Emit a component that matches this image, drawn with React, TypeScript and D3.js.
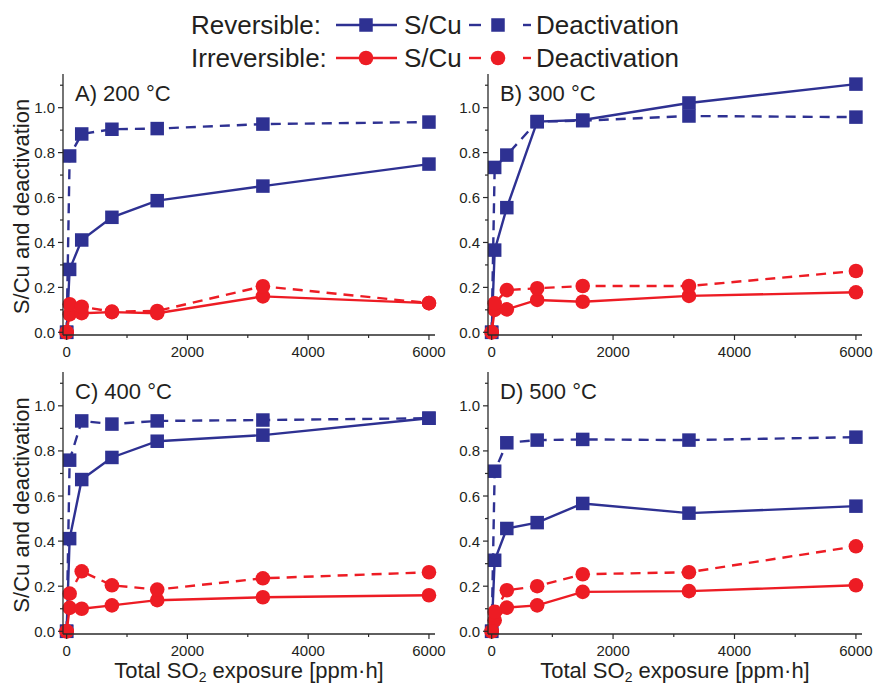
import React from 'react';
import * as d3 from 'd3';

const exposure = [0, 50, 250, 750, 1500, 3250, 6000];

const revSCuA = [0, 0.28, 0.411, 0.512, 0.586, 0.651, 0.749];
const revDeactA = [0, 0.785, 0.883, 0.904, 0.907, 0.927, 0.936];
const irrSCuA = [0, 0.08, 0.085, 0.09, 0.085, 0.16, 0.13];
const irrDeactA = [0, 0.125, 0.114, 0.092, 0.095, 0.205, 0.13];

const revSCuB = [0, 0.366, 0.555, 0.938, 0.945, 1.021, 1.105];
const revDeactB = [0, 0.734, 0.789, 0.938, 0.942, 0.963, 0.958];
const irrSCuB = [0, 0.1, 0.102, 0.144, 0.136, 0.162, 0.178];
const irrDeactB = [0, 0.129, 0.188, 0.196, 0.206, 0.206, 0.273];

const revSCuC = [0, 0.411, 0.673, 0.771, 0.843, 0.87, 0.945];
const revDeactC = [0, 0.759, 0.933, 0.919, 0.933, 0.937, 0.945];
const irrSCuC = [0, 0.104, 0.1, 0.115, 0.138, 0.151, 0.16];
const irrDeactC = [0, 0.167, 0.266, 0.204, 0.185, 0.235, 0.262];

const revSCuD = [0, 0.315, 0.456, 0.482, 0.567, 0.524, 0.555];
const revDeactD = [0, 0.71, 0.836, 0.848, 0.851, 0.848, 0.861];
const irrSCuD = [0, 0.049, 0.105, 0.115, 0.175, 0.178, 0.204];
const irrDeactD = [0, 0.086, 0.182, 0.2, 0.253, 0.262, 0.377];

const panelLabels = ['A) 200 °C', 'B) 300 °C', 'C) 400 °C', 'D) 500 °C'];
const xTicks = [0, 2000, 4000, 6000];
const xMinorTicks = [1000, 3000, 5000];
const yTicks = [0, 0.2, 0.4, 0.6, 0.8, 1.0];
const yMinorTicks = [0.1, 0.3, 0.5, 0.7, 0.9, 1.1];
const legendGroups = ['Reversible:', 'Irreversible:'];
const legendSeries = ['S/Cu', 'Deactivation'];
const yTitle = 'S/Cu and deactivation';

const BLUE = '#2e3192';
const RED = '#ed1c24';
const AXIS = '#2a2a2a';
const TEXT = '#231f20';
const FONT = "'Liberation Sans', Arial, Helvetica, sans-serif";
const DASH = '10,7';

type Geo = { left: number; right: number; top: number; bottom: number };

function Marker({ kind, x, y, color }: { kind: 'square' | 'circle'; x: number; y: number; color: string }) {
  if (kind === 'square') {
    const s = 13.5;
    return <rect x={x - s / 2} y={y - s / 2} width={s} height={s} fill={color} />;
  }
  return <circle cx={x} cy={y} r={7.3} fill={color} />;
}

function Panel({
  geo,
  label,
  series,
  showXTitle,
  showYTitle,
}: {
  geo: Geo;
  label: string;
  series: number[][];
  showXTitle: boolean;
  showYTitle: boolean;
}) {
  const x = d3.scaleLinear().domain([-60, 6100]).range([geo.left, geo.right]);
  const y = d3.scaleLinear().domain([-0.012, 1.15]).range([geo.bottom, geo.top]);
  const styles = [
    { color: BLUE, dash: undefined, kind: 'square' as const },
    { color: BLUE, dash: DASH, kind: 'square' as const },
    { color: RED, dash: undefined, kind: 'circle' as const },
    { color: RED, dash: DASH, kind: 'circle' as const },
  ];
  const line = d3
    .line<number>()
    .x((_, i) => x(exposure[i]))
    .y((d) => y(d));

  return (
    <g>
      {series.map((vals, si) => {
        const st = styles[si];
        return (
          <g key={si}>
            <path
              d={line(vals) || ''}
              fill="none"
              stroke={st.color}
              strokeWidth={2.4}
              strokeDasharray={st.dash}
            />
            {vals.map((v, i) => (
              <Marker key={i} kind={st.kind} x={x(exposure[i])} y={y(v)} color={st.color} />
            ))}
          </g>
        );
      })}
      <line x1={geo.left} x2={geo.left} y1={geo.top} y2={geo.bottom} stroke={AXIS} strokeWidth={1.3} />
      <line x1={geo.left} x2={geo.right} y1={geo.bottom} y2={geo.bottom} stroke={AXIS} strokeWidth={1.3} />
      {yTicks.map((t) => (
        <g key={'y' + t}>
          <line x1={geo.left - 5} x2={geo.left} y1={y(t)} y2={y(t)} stroke={AXIS} strokeWidth={1.2} />
          <text
            x={geo.left - 8}
            y={y(t)}
            textAnchor="end"
            dominantBaseline="central"
            fontSize={15}
            fontFamily={FONT}
            fill={TEXT}
          >
            {t.toFixed(1)}
          </text>
        </g>
      ))}
      {yMinorTicks.map((t) => (
        <line key={'ym' + t} x1={geo.left - 3} x2={geo.left} y1={y(t)} y2={y(t)} stroke={AXIS} strokeWidth={1.2} />
      ))}
      {xTicks.map((t) => (
        <g key={'x' + t}>
          <line x1={x(t)} x2={x(t)} y1={geo.bottom} y2={geo.bottom + 5} stroke={AXIS} strokeWidth={1.2} />
          <text
            x={x(t)}
            y={geo.bottom + 22}
            textAnchor="middle"
            fontSize={15}
            fontFamily={FONT}
            fill={TEXT}
          >
            {t}
          </text>
        </g>
      ))}
      {xMinorTicks.map((t) => (
        <line key={'xm' + t} x1={x(t)} x2={x(t)} y1={geo.bottom} y2={geo.bottom + 3} stroke={AXIS} strokeWidth={1.2} />
      ))}
      <text x={geo.left + 12} y={geo.top + 27} fontSize={22} fontFamily={FONT} fill={TEXT}>
        {label}
      </text>
      {showYTitle && (
        <text
          transform={`translate(21, ${(geo.top + geo.bottom) / 2 + 2}) rotate(-90)`}
          textAnchor="middle"
          dominantBaseline="central"
          fontSize={22}
          fontFamily={FONT}
          fill={TEXT}
        >
          {yTitle}
        </text>
      )}
      {showXTitle && (
        <text
          x={(geo.left + geo.right) / 2}
          y={geo.bottom + 44}
          textAnchor="middle"
          fontSize={22}
          fontFamily={FONT}
          fill={TEXT}
        >
          Total SO
          <tspan fontSize={14} dy={3.5}>2</tspan>
          <tspan dy={-3.5}> exposure [ppm·h]</tspan>
        </text>
      )}
    </g>
  );
}

function Legend() {
  const rows = [
    { y: 25, color: BLUE, kind: 'square' as const },
    { y: 58, color: RED, kind: 'circle' as const },
  ];
  const fs = 26;
  return (
    <g>
      {rows.map((r, i) => (
        <g key={i}>
          <text x={191} y={r.y} dominantBaseline="central" fontSize={fs} fontFamily={FONT} fill={TEXT}>
            {legendGroups[i]}
          </text>
          <line x1={336} x2={397} y1={r.y} y2={r.y} stroke={r.color} strokeWidth={2.4} />
          <Marker kind={r.kind} x={366} y={r.y} color={r.color} />
          <text x={404} y={r.y} dominantBaseline="central" fontSize={fs} fontFamily={FONT} fill={TEXT}>
            {legendSeries[0]}
          </text>
          <line x1={469} x2={481} y1={r.y} y2={r.y} stroke={r.color} strokeWidth={2.4} />
          <Marker kind={r.kind} x={498} y={r.y} color={r.color} />
          <line x1={523} x2={531} y1={r.y} y2={r.y} stroke={r.color} strokeWidth={2.4} />
          <text x={536} y={r.y} dominantBaseline="central" fontSize={fs} fontFamily={FONT} fill={TEXT}>
            {legendSeries[1]}
          </text>
        </g>
      ))}
    </g>
  );
}

export default function App() {
  const geos: Geo[] = [
    { left: 63, right: 435, top: 74, bottom: 335 },
    { left: 488, right: 862, top: 74, bottom: 335 },
    { left: 63, right: 435, top: 372, bottom: 634 },
    { left: 488, right: 862, top: 372, bottom: 634 },
  ];
  const data = [
    [revSCuA, revDeactA, irrSCuA, irrDeactA],
    [revSCuB, revDeactB, irrSCuB, irrDeactB],
    [revSCuC, revDeactC, irrSCuC, irrDeactC],
    [revSCuD, revDeactD, irrSCuD, irrDeactD],
  ];
  return (
    <svg
      width={874}
      height={686}
      style={{ position: 'absolute', left: 0, top: 0, background: '#fff' }}
    >
      <rect width={874} height={686} fill="#fff" />
      <Legend />
      {geos.map((g, i) => (
        <Panel
          key={i}
          geo={g}
          label={panelLabels[i]}
          series={data[i]}
          showXTitle={i >= 2}
          showYTitle={i % 2 === 0}
        />
      ))}
    </svg>
  );
}
